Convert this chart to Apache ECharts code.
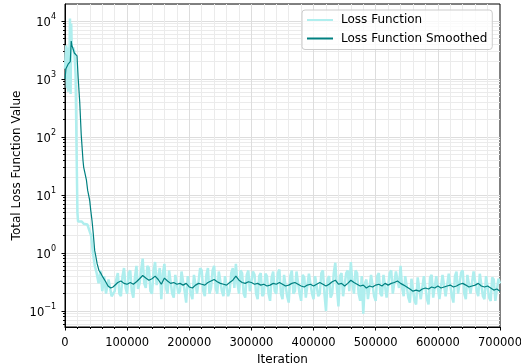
<!DOCTYPE html>
<html>
<head>
<meta charset="utf-8">
<script src="https://cdn.jsdelivr.net/npm/echarts@6/dist/echarts.min.js"></script>
<style>
  html, body { margin: 0; padding: 0; background: #fff; }
  #chart { width: 521px; height: 363px; }
</style>
</head>
<body>
<div id="chart"></div>
<script>
// early part of the run (iteration, loss)
const rawIterHead = [0, 2000, 3000, 4000, 5000, 6000, 7000, 8000, 9000, 10000, 11000, 13000, 15000, 17000, 19000, 20000, 21000, 24000, 27000, 30000, 33000, 36000, 39000, 42000, 45000, 48000, 51000, 54000, 57000, 60000, 63000, 66000, 70000, 75000];
const rawLossHead = [1500, 3800, 700, 3500, 600, 2500, 1800, 11000, 550, 9000, 3200, 3500, 3000, 1200, 30, 5, 3.5, 3.3, 3.5, 3.2, 3.4, 3.1, 3.3, 2.0, 1.0, 0.6, 0.45, 0.3, 0.5, 0.22, 0.4, 0.2, 0.35, 0.18];

const smoothIterHead = [0, 1500, 3000, 5000, 7000, 8500, 10000, 11000, 13000, 15000, 17000, 19300, 21300, 23700, 26100, 29000, 30100, 34500, 36500, 39800, 41400, 43500, 45400, 47800, 49400, 51800, 54700, 57500, 61200, 65500, 69200, 73600, 77300];
const smoothLossHead = [1000, 1500, 1600, 1800, 1700, 2000, 4500, 3800, 3300, 2800, 2900, 2500, 1000, 400, 110, 39, 30, 18, 12, 8, 5.5, 3.6, 2.2, 1.1, 0.9, 0.65, 0.5, 0.45, 0.38, 0.32, 0.27, 0.25, 0.26];

// plateau, raw loss logged every 2500 iterations (in thousands)
const rawTailIterK = [
  80, 82.5, 85, 87.5, 90, 92.5, 95, 97.5, 100, 102.5, 105, 107.5, 110, 112.5, 115, 117.5, 120, 122.5, 125, 127.5,
  130, 132.5, 135, 137.5, 140, 142.5, 145, 147.5, 150, 152.5, 155, 157.5, 160, 162.5, 165, 167.5, 170, 172.5, 175, 177.5,
  180, 182.5, 185, 187.5, 190, 192.5, 195, 197.5, 200, 202.5, 205, 207.5, 210, 212.5, 215, 217.5, 220, 222.5, 225, 227.5,
  230, 232.5, 235, 237.5, 240, 242.5, 245, 247.5, 250, 252.5, 255, 257.5, 260, 262.5, 265, 267.5, 270, 272.5, 275, 277.5,
  280, 282.5, 285, 287.5, 290, 292.5, 295, 297.5, 300, 302.5, 305, 307.5, 310, 312.5, 315, 317.5, 320, 322.5, 325, 327.5,
  330, 332.5, 335, 337.5, 340, 342.5, 345, 347.5, 350, 352.5, 355, 357.5, 360, 362.5, 365, 367.5, 370, 372.5, 375, 377.5,
  380, 382.5, 385, 387.5, 390, 392.5, 395, 397.5, 400, 402.5, 405, 407.5, 410, 412.5, 415, 417.5, 420, 422.5, 425, 427.5,
  430, 432.5, 435, 437.5, 440, 442.5, 445, 447.5, 450, 452.5, 455, 457.5, 460, 462.5, 465, 467.5, 470, 472.5, 475, 477.5,
  480, 482.5, 485, 487.5, 490, 492.5, 495, 497.5, 500, 502.5, 505, 507.5, 510, 512.5, 515, 517.5, 520, 522.5, 525, 527.5,
  530, 532.5, 535, 537.5, 540, 542.5, 545, 547.5, 550, 552.5, 555, 557.5, 560, 562.5, 565, 567.5, 570, 572.5, 575, 577.5,
  580, 582.5, 585, 587.5, 590, 592.5, 595, 597.5, 600, 602.5, 605, 607.5, 610, 612.5, 615, 617.5, 620, 622.5, 625, 627.5,
  630, 632.5, 635, 637.5, 640, 642.5, 645, 647.5, 650, 652.5, 655, 657.5, 660, 662.5, 665, 667.5, 670, 672.5, 675, 677.5,
  680, 682.5, 685, 687.5, 690, 692.5, 695, 697.5, 700
];
const rawLossTail = [
  0.22, 0.35, 0.45, 0.2, 0.18, 0.4, 0.55, 0.25, 0.2, 0.45, 0.5, 0.22, 0.17, 0.38, 0.6, 0.24, 0.3, 0.5, 0.8, 0.3,
  0.25, 0.6, 0.55, 0.22, 0.2, 0.5, 0.7, 0.28, 0.3, 0.55, 0.16, 0.45, 0.65, 0.25, 0.2, 0.5, 0.5, 0.2, 0.17, 0.42,
  0.45, 0.2, 0.22, 0.48, 0.5, 0.22, 0.14, 0.4, 0.38, 0.2, 0.16, 0.42, 0.45, 0.2, 0.2, 0.55, 0.5, 0.22, 0.18, 0.42,
  0.55, 0.2, 0.25, 0.5, 0.6, 0.25, 0.2, 0.48, 0.45, 0.22, 0.18, 0.4, 0.42, 0.18, 0.22, 0.45, 0.55, 0.25, 0.65, 0.3,
  0.2, 0.5, 0.45, 0.2, 0.17, 0.42, 0.5, 0.22, 0.22, 0.48, 0.42, 0.2, 0.16, 0.4, 0.45, 0.18, 0.2, 0.44, 0.4, 0.2,
  0.15, 0.38, 0.48, 0.22, 0.2, 0.45, 0.52, 0.2, 0.16, 0.42, 0.4, 0.18, 0.14, 0.4, 0.5, 0.2, 0.22, 0.48, 0.45, 0.2,
  0.15, 0.42, 0.38, 0.17, 0.18, 0.44, 0.46, 0.2, 0.16, 0.4, 0.42, 0.18, 0.2, 0.45, 0.5, 0.2, 0.1, 0.35, 0.4, 0.17,
  0.2, 0.45, 0.68, 0.25, 0.12, 0.4, 0.45, 0.18, 0.18, 0.45, 0.5, 0.22, 0.7, 0.3, 0.2, 0.5, 0.45, 0.2, 0.15, 0.4,
  0.09, 0.3, 0.35, 0.16, 0.17, 0.42, 0.42, 0.18, 0.15, 0.4, 0.45, 0.2, 0.18, 0.42, 0.4, 0.17, 0.16, 0.45, 0.5, 0.2,
  0.2, 0.48, 0.45, 0.25, 0.6, 0.25, 0.18, 0.4, 0.4, 0.17, 0.14, 0.36, 0.35, 0.15, 0.13, 0.38, 0.38, 0.16, 0.15, 0.4,
  0.4, 0.16, 0.13, 0.38, 0.42, 0.17, 0.16, 0.4, 0.38, 0.16, 0.15, 0.42, 0.45, 0.18, 0.17, 0.44, 0.42, 0.18, 0.14, 0.4,
  0.48, 0.2, 0.2, 0.46, 0.5, 0.2, 0.16, 0.42, 0.45, 0.2, 0.2, 0.48, 0.5, 0.22, 0.18, 0.44, 0.42, 0.18, 0.16, 0.4,
  0.4, 0.17, 0.15, 0.38, 0.35, 0.15, 0.14, 0.36, 0.3
];

// smoothed loss on the plateau, every 5000 iterations (in thousands)
const smoothTailIterK = [
  80, 85, 90, 95, 100, 105, 110, 115, 120, 125, 130, 135, 140, 145, 150, 155, 160, 165, 170, 175,
  180, 185, 190, 195, 200, 205, 210, 215, 220, 225, 230, 235, 240, 245, 250, 255, 260, 265, 270, 275,
  280, 285, 290, 295, 300, 305, 310, 315, 320, 325, 330, 335, 340, 345, 350, 355, 360, 365, 370, 375,
  380, 385, 390, 395, 400, 405, 410, 415, 420, 425, 430, 435, 440, 445, 450, 455, 460, 465, 470, 475,
  480, 485, 490, 495, 500, 505, 510, 515, 520, 525, 530, 535, 540, 545, 550, 555, 560, 565, 570, 575,
  580, 585, 590, 595, 600, 605, 610, 615, 620, 625, 630, 635, 640, 645, 650, 655, 660, 665, 670, 675,
  680, 685, 690, 695, 700
];
const smoothLossTail = [
  0.27, 0.31, 0.33, 0.30, 0.29, 0.31, 0.29, 0.32, 0.36, 0.41,
  0.37, 0.34, 0.36, 0.40, 0.35, 0.29, 0.37, 0.33, 0.30, 0.31,
  0.29, 0.30, 0.28, 0.30, 0.26, 0.25, 0.28, 0.30, 0.29, 0.28,
  0.31, 0.33, 0.35, 0.32, 0.30, 0.29, 0.28, 0.31, 0.34, 0.40,
  0.34, 0.31, 0.30, 0.32, 0.31, 0.29, 0.30, 0.28, 0.29, 0.27,
  0.28, 0.30, 0.29, 0.31, 0.29, 0.27, 0.28, 0.30, 0.31, 0.29,
  0.27, 0.26, 0.28, 0.29, 0.27, 0.29, 0.31, 0.29, 0.27, 0.29,
  0.32, 0.34, 0.29, 0.30, 0.27, 0.30, 0.34, 0.31, 0.29, 0.27,
  0.28, 0.25, 0.27, 0.26, 0.28, 0.29, 0.27, 0.30, 0.28, 0.30,
  0.31, 0.33, 0.30, 0.28, 0.26, 0.24, 0.22, 0.23, 0.22, 0.24,
  0.25, 0.24, 0.26, 0.25, 0.27, 0.25, 0.26, 0.27, 0.28, 0.26,
  0.27, 0.29, 0.30, 0.28, 0.26, 0.27, 0.28, 0.30, 0.27, 0.26,
  0.27, 0.25, 0.23, 0.24, 0.22
];

const xTicks = [0, 100000, 200000, 300000, 400000, 500000, 600000, 700000];
const yExponents = [-1, 0, 1, 2, 3, 4];

const Y_MIN = 0.0531;
const Y_MAX = 19600;
const FONT = 'DejaVu Sans';
const LABEL_SIZE = 11.5;
const TEXT_SIZE = 12;

const pairs = (xs, ys) => xs.map((x, i) => [x, ys[i]]);
const rawData = pairs(rawIterHead.concat(rawTailIterK.map((k) => k * 1000)), rawLossHead.concat(rawLossTail));
const smoothData = pairs(smoothIterHead.concat(smoothTailIterK.map((k) => k * 1000)), smoothLossHead.concat(smoothLossTail));

// minor log positions 2..9 x 10^n, in log10 units for the helper axis
const minorLogTicks = [];
for (let e = -2; e <= 4; e++) {
  for (let k = 2; k <= 9; k++) {
    const v = Math.log10(k) + e;
    if (v > Math.log10(Y_MIN) && v < Math.log10(Y_MAX)) minorLogTicks.push(v);
  }
}

const chart = echarts.init(document.getElementById('chart'));

const helperAxis = {
  type: 'value',
  position: 'left',
  min: Math.log10(Y_MIN),
  max: Math.log10(Y_MAX),
  axisLine: { show: false },
  axisLabel: { show: false },
  splitLine: { show: false },
};

chart.setOption({
  animation: false,
  backgroundColor: '#fff',
  textStyle: { fontFamily: FONT },
  grid: {
    left: 65,
    right: 21,
    top: 4,
    bottom: 36,
    outerBoundsMode: 'none',
    containLabel: false,
    show: true,
    borderColor: '#000',
    borderWidth: 1,
    backgroundColor: '#fff',
  },
  legend: {
    orient: 'vertical',
    left: 302,
    top: 10,
    padding: [4, 5, 5, 4],
    itemWidth: 26,
    itemHeight: 12,
    itemGap: 6.5,
    backgroundColor: 'rgba(255,255,255,0.8)',
    borderColor: '#cccccc',
    borderWidth: 1,
    borderRadius: 3,
    itemStyle: { opacity: 0 },
    textStyle: { fontFamily: FONT, fontSize: TEXT_SIZE, color: '#000', padding: [0, 0, 0, 3] },
    data: ['Loss Function', 'Loss Function Smoothed'],
  },
  xAxis: {
    type: 'value',
    min: 0,
    max: 700000,
    interval: 100000,
    name: 'Iteration',
    nameLocation: 'middle',
    nameGap: 25,
    nameTextStyle: { fontFamily: FONT, fontSize: TEXT_SIZE, color: '#000' },
    axisLine: { onZero: false, lineStyle: { color: '#000', width: 1 } },
    axisTick: { length: 3.5, lineStyle: { color: '#000' } },
    minorTick: { show: true, splitNumber: 5, length: 2, lineStyle: { color: '#000' } },
    axisLabel: {
      fontFamily: FONT,
      fontSize: LABEL_SIZE,
      color: '#000',
      margin: 10,
      customValues: xTicks,
      formatter: (v) => String(v),
    },
    splitLine: { show: true, showMaxLine: false, lineStyle: { color: '#dddddd', width: 1 } },
    minorSplitLine: { show: true, lineStyle: { color: '#ebebeb', width: 1 } },
  },
  yAxis: [
    {
      type: 'log',
      logBase: 10,
      position: 'left',
      min: Y_MIN,
      max: Y_MAX,
      name: 'Total Loss Function Value',
      nameLocation: 'middle',
      nameGap: 42,
      nameMoveOverlap: false,
      nameTextStyle: { fontFamily: FONT, fontSize: TEXT_SIZE, color: '#000' },
      axisLine: { show: true, onZero: false, lineStyle: { color: '#000', width: 1 } },
      axisTick: { show: false },
      axisLabel: {
        margin: 9,
        showMinLabel: false,
        showMaxLabel: false,
        formatter: (v) => {
          const e = Math.round(Math.log10(v));
          return '{b|10}{s|' + (e < 0 ? '\u2212' + (-e) : e) + '}';
        },
        rich: {
          b: { fontFamily: FONT, fontSize: LABEL_SIZE, color: '#000', lineHeight: 16, verticalAlign: 'bottom' },
          s: { fontFamily: FONT, fontSize: 8, color: '#000', lineHeight: 9, verticalAlign: 'top' },
        },
      },
      splitLine: { show: true, showMinLine: false, showMaxLine: false, lineStyle: { color: '#dddddd', width: 1 } },
    },
    Object.assign({}, helperAxis, {
      axisTick: { show: true, length: 3.5, lineStyle: { color: '#000' }, customValues: yExponents },
    }),
    Object.assign({}, helperAxis, {
      axisTick: { show: true, length: 2, lineStyle: { color: '#000' }, customValues: minorLogTicks },
      splitLine: { show: true, lineStyle: { color: '#ebebeb', width: 1 } },
    }),
  ],
  series: [
    {
      name: 'Loss Function',
      type: 'line',
      yAxisIndex: 0,
      data: rawData,
      symbol: 'none',
      lineStyle: { color: '#afeeee', width: 2.5 },
      itemStyle: { color: '#afeeee' },
      z: 2,
    },
    {
      name: 'Loss Function Smoothed',
      type: 'line',
      yAxisIndex: 0,
      data: smoothData,
      symbol: 'none',
      lineStyle: { color: '#008080', width: 1.2 },
      itemStyle: { color: '#008080' },
      z: 3,
    },
  ],
});
</script>
</body>
</html>
